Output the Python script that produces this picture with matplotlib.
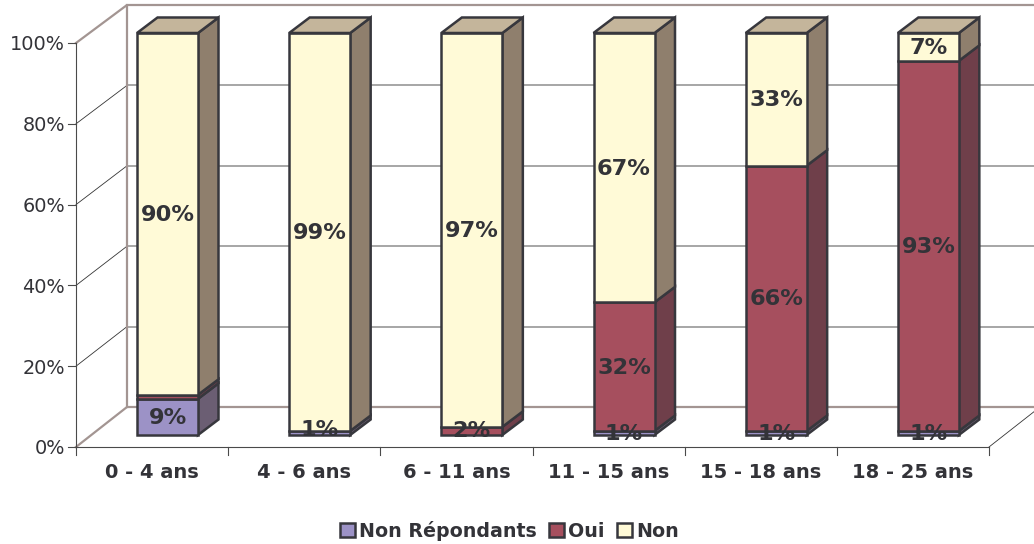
"""
Stacked 100% bar chart drawn with a fake 3D look (Excel style).
"""

import matplotlib
matplotlib.use('Agg')
import matplotlib.pyplot as plt
from matplotlib.patches import Patch, Polygon
import numpy as np

# Data
categories = ['0 - 4 ans', '4 - 6 ans', '6 - 11 ans', '11 - 15 ans', '15 - 18 ans', '18 - 25 ans']
series_names = ['Non Répondants', 'Oui', 'Non']
non_repondants = [9, 1, 0, 1, 1, 1]
oui = [1, 0, 2, 32, 66, 93]
non = [90, 99, 97, 67, 33, 7]
y_ticks = [0, 20, 40, 60, 80, 100]

# Colors
FRONT = ['#9C92C6', '#A64F5E', '#FFFAD7']
SIDE = ['#6B5E73', '#6F3F4A', '#8F7F6D']
TOP = '#C4B59B'
EDGE = '#37373D'
WALL = '#A39592'
GRID = '#8E8E8E'
TEXT = '#333338'

# Layout, pixels of the 1034x544 picture
W, H = 1034, 544
X0, Y0 = 76, 447          # origin of the front plane
CAT_PX = (989 - 76) / 6
PCT_PX = (447 - 43) / 100

# Depth offsets in data units
WALL_DX, WALL_DY = 51 / CAT_PX, 40 / PCT_PX
WALL_SCALE = 402 / 404
BAR_X, BAR_W = 61 / CAT_PX, 61 / CAT_PX
BAR_LIFT = 12 / PCT_PX
BAR_DX, BAR_DY = 20.5 / CAT_PX, 15.5 / PCT_PX
BAR_SCALE = (435 - 33) / 404
BAR_LW = 1.8


def draw_walls(ax):
    """Back wall, floor, gridlines and axes of the fake 3D box."""
    x_end = 7
    back_top = 100 * WALL_SCALE + WALL_DY
    for tick in y_ticks[1:-1]:
        back = tick * WALL_SCALE + WALL_DY
        ax.plot([WALL_DX, x_end], [back, back], color=GRID, lw=1.1, zorder=1)
        ax.plot([0, WALL_DX], [tick, back], color='#333333', lw=0.6, zorder=1)
    ax.plot([0, WALL_DX, WALL_DX], [100, back_top, WALL_DY], color=WALL, lw=1.6, zorder=1.5)
    ax.plot([WALL_DX, x_end], [back_top, back_top], color=WALL, lw=1.6, zorder=1.5)
    ax.plot([0, WALL_DX, x_end], [0, WALL_DY, WALL_DY], color=WALL, lw=1.6, zorder=1.5)
    ax.plot([6, 6 + WALL_DX], [0, WALL_DY], color='#333333', lw=0.6, zorder=1.5)

    # axes lines and ticks
    ax.plot([0, 0], [0, 100], color='#4A4A4A', lw=0.8, zorder=2)
    ax.plot([0, 6], [0, 0], color='#4A4A4A', lw=0.8, zorder=2)
    for tick in y_ticks:
        ax.plot([-8 / CAT_PX, 0], [tick, tick], color='#4A4A4A', lw=0.8, zorder=2)
        ax.text(-11 / CAT_PX, tick - 2 / PCT_PX, f'{tick}%', ha='right', va='center',
                fontsize=13.9, color=TEXT)
    for i in range(7):
        ax.plot([i, i], [0, -8 / PCT_PX], color='#4A4A4A', lw=0.8, zorder=2)


def draw_bars(ax):
    """Stacked bars with front, side and top faces, and their labels."""
    values = np.array([non_repondants, oui, non], dtype=float)
    shares = values / values.sum(axis=0) * 100

    for i, name in enumerate(categories):
        left = i + BAR_X
        right = left + BAR_W
        bottom = 0.0
        for s in range(3):
            share = shares[s, i]
            if share == 0:
                continue
            y1 = BAR_LIFT + bottom * BAR_SCALE
            y2 = BAR_LIFT + (bottom + share) * BAR_SCALE
            ax.add_patch(Polygon([(right, y1), (right + BAR_DX, y1 + BAR_DY),
                                  (right + BAR_DX, y2 + BAR_DY), (right, y2)],
                                 facecolor=SIDE[s], edgecolor=EDGE, lw=BAR_LW, zorder=3))
            ax.add_patch(Polygon([(left, y1), (right, y1), (right, y2), (left, y2)],
                                 facecolor=FRONT[s], edgecolor=EDGE, lw=BAR_LW, zorder=4))
            bottom += share
        # top cap
        y_top = BAR_LIFT + 100 * BAR_SCALE
        ax.add_patch(Polygon([(left, y_top), (right, y_top),
                              (right + BAR_DX, y_top + BAR_DY), (left + BAR_DX, y_top + BAR_DY)],
                             facecolor=TOP, edgecolor=EDGE, lw=BAR_LW, zorder=4))

        # labels go on top of the front faces, the thin red slice of the first bar has none
        bottom = 0.0
        for s in range(3):
            share = shares[s, i]
            if share > 0 and not (s == 1 and i == 0):
                nudge = {1: 4, 2: 1}.get(i, 0) if bottom < 1 else 0
                y_mid = BAR_LIFT + (bottom + share / 2) * BAR_SCALE + (nudge - 1) / PCT_PX
                ax.text((left + right) / 2, y_mid, f'{values[s, i]:.0f}%', ha='center',
                        va='center', fontsize=16.2, fontweight='bold', color=TEXT, zorder=6)
            bottom += share

        ax.text(i + 0.5, -25.5 / PCT_PX, name, ha='center', va='center',
                fontsize=14, fontweight='bold', color=TEXT)


def main():
    fig = plt.figure(figsize=(W / 100, H / 100), dpi=100)
    ax = fig.add_axes([0, 0, 1, 1])
    ax.set_xlim(-X0 / CAT_PX, (W - X0) / CAT_PX)
    ax.set_ylim((Y0 - H) / PCT_PX, Y0 / PCT_PX)
    ax.axis('off')

    draw_walls(ax)
    draw_bars(ax)

    handles = [Patch(facecolor=FRONT[s], edgecolor=EDGE, lw=BAR_LW, label=series_names[s])
               for s in range(3)]
    legend = ax.legend(handles=handles, loc='center', bbox_to_anchor=(0.4926, 0.0245), ncol=3,
                       frameon=False, handlelength=0.8, handleheight=0.8, handletextpad=0.2,
                       columnspacing=0.66, prop={'size': 13.7, 'weight': 'bold'})
    for text in legend.get_texts():
        text.set_color(TEXT)

    fig.savefig('out.png', dpi=100)


if __name__ == "__main__":
    main()
